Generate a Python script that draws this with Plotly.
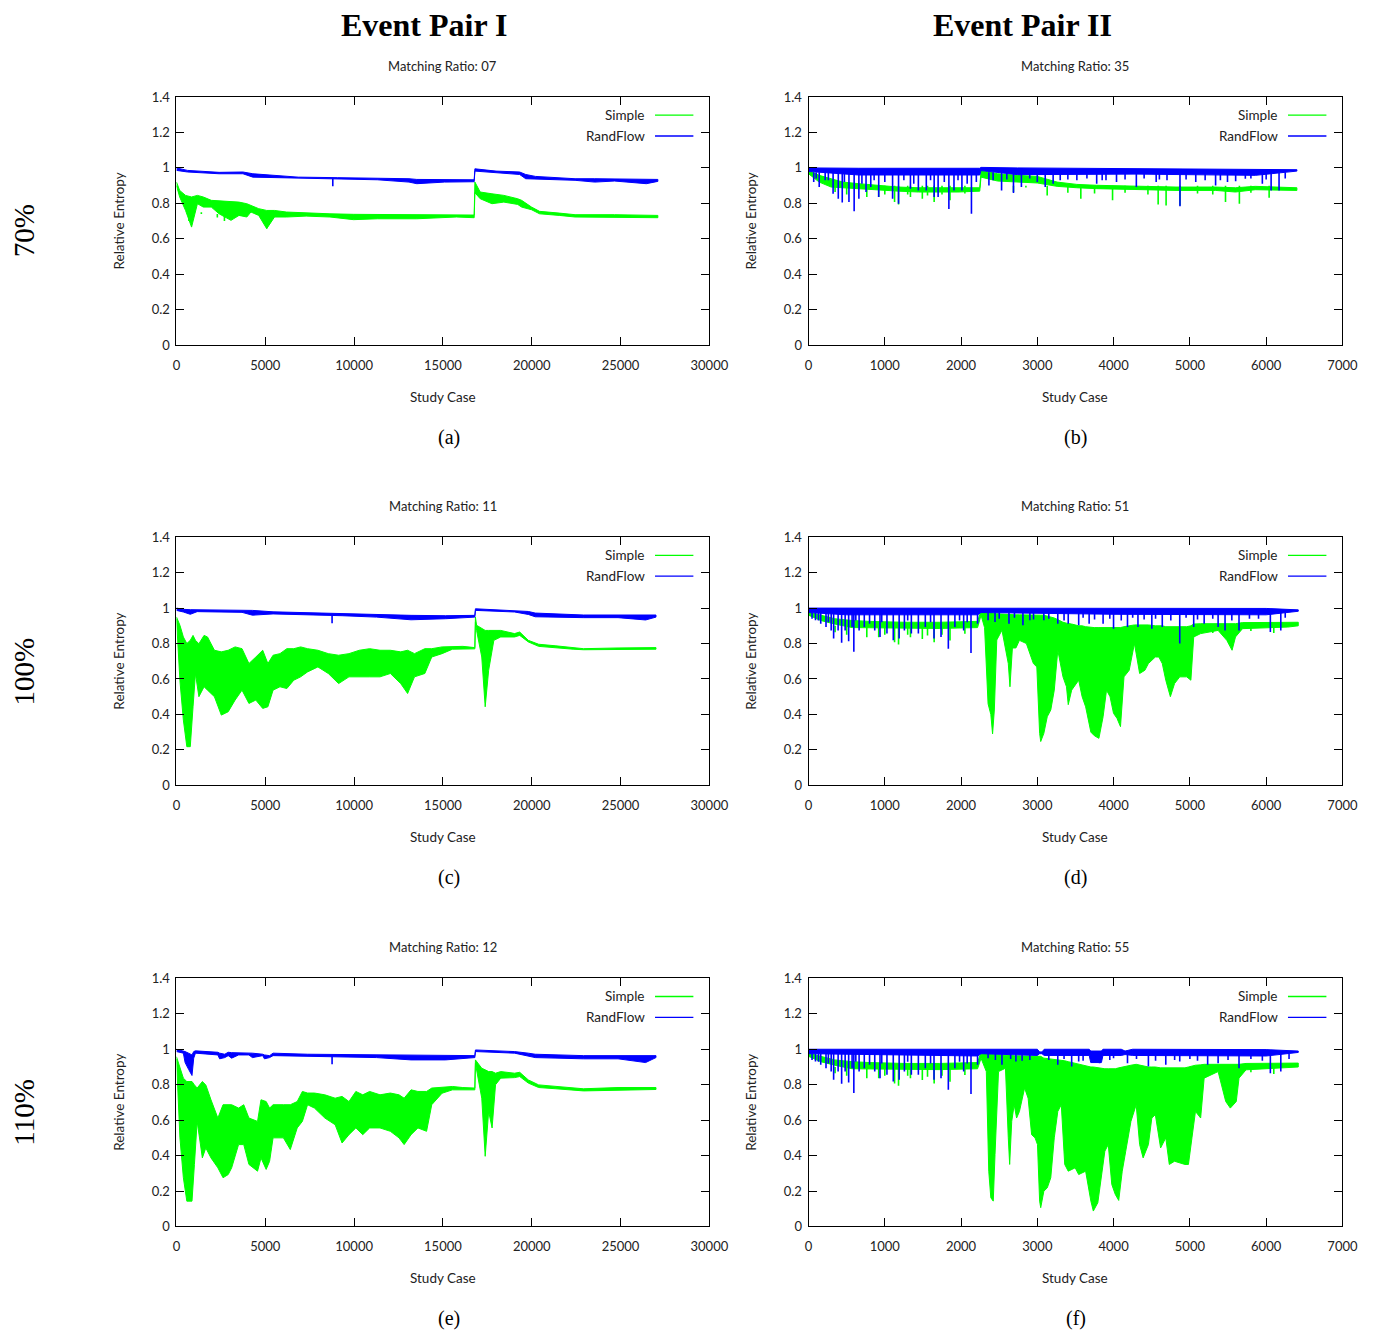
import plotly.graph_objects as go

GREEN = "#00ff00"
BLUE = "#0000ff"
SANS = "Lato, 'Noto Sans', sans-serif"
SERIF = "'Liberation Serif', 'DejaVu Serif', serif"
W, H = 1373, 1332

# ---------------- data ----------------
# (a) Event Pair I, 70 %
a_simple_x = [0, 180, 510, 850, 1180, 1510, 1960, 2400, 3070, 3520, 3960, 4190, 4630, 5080, 5520, 6190, 7300, 8640, 9970, 11310,
              13530, 15760, 16760, 16800, 17100, 17760, 18430, 19210, 19430, 19990, 20440, 21550, 22440, 24660, 27100]
a_simple_hi = [0.92, 0.873, 0.845, 0.836, 0.845, 0.836, 0.817, 0.813, 0.807, 0.807, 0.798, 0.788, 0.770, 0.760, 0.760, 0.751, 0.745, 0.741, 0.738, 0.738,
               0.736, 0.738, 0.734, 0.92, 0.864, 0.854, 0.845, 0.826, 0.817, 0.779, 0.755, 0.745, 0.736, 0.736, 0.732]
a_simple_lo = [0.90, 0.836, 0.76, 0.666, 0.798, 0.779, 0.779, 0.741, 0.704, 0.732, 0.723, 0.751, 0.732, 0.657, 0.723, 0.723, 0.728, 0.723, 0.708, 0.713,
               0.713, 0.723, 0.719, 0.86, 0.826, 0.798, 0.807, 0.794, 0.779, 0.764, 0.741, 0.732, 0.723, 0.719, 0.719]
a_simple_spike_x = [700, 1400, 2300, 2700, 3200, 3600, 5100, 5300]
a_simple_spike_y = [0.70, 0.75, 0.72, 0.70, 0.72, 0.73, 0.66, 0.70]
a_rand_x = [0, 620, 2400, 3740, 4300, 5300, 6860, 9080, 11310, 13090, 13530, 15090, 16760, 16800, 17990, 19320, 19660, 20210, 22440, 23550, 24660, 26450, 27100]
a_rand_hi = [1.0, 0.986, 0.975, 0.977, 0.967, 0.958, 0.948, 0.945, 0.943, 0.939, 0.935, 0.935, 0.933, 0.995, 0.982, 0.977, 0.963, 0.952, 0.939, 0.939, 0.939, 0.939, 0.935]
a_rand_lo = [0.986, 0.977, 0.967, 0.967, 0.948, 0.948, 0.943, 0.937, 0.933, 0.920, 0.911, 0.920, 0.922, 0.982, 0.971, 0.963, 0.939, 0.939, 0.930, 0.920, 0.926, 0.911, 0.924]
a_rand_spike_x = [8800]
a_rand_spike_y = [0.896]

# (c) Event Pair I, 100 %
c_simple_x = [0, 194, 388, 583, 777, 932, 1068, 1262, 1554, 1748, 2136, 2525, 2913, 3301, 3690, 4079, 4467, 4855, 5146, 5438,
              5826, 6214, 6603, 6991, 7380, 7962, 8545, 9128, 9710, 10293, 10876, 11458, 12041, 12624, 13012, 13400, 13982, 14371, 14953, 15536,
              16119, 16798, 16830, 16895, 17186, 17380, 17574, 17866, 18254, 19032, 19323, 19808, 20390, 21361, 22332, 22915, 24857, 26994]
c_simple_hi = [0.95, 0.903, 0.837, 0.80, 0.818, 0.846, 0.818, 0.799, 0.846, 0.837, 0.762, 0.753, 0.762, 0.781, 0.771, 0.687, 0.724, 0.762, 0.687, 0.734,
               0.743, 0.771, 0.771, 0.781, 0.771, 0.762, 0.743, 0.734, 0.743, 0.762, 0.771, 0.762, 0.762, 0.753, 0.762, 0.743, 0.771, 0.771, 0.781, 0.784,
               0.784, 0.777, 0.949, 0.903, 0.884, 0.874, 0.874, 0.874, 0.874, 0.856, 0.865, 0.818, 0.796, 0.787, 0.777, 0.771, 0.775, 0.777]
c_simple_lo = [0.94, 0.59, 0.368, 0.218, 0.218, 0.443, 0.631, 0.50, 0.556, 0.537, 0.50, 0.396, 0.415, 0.481, 0.537, 0.462, 0.481, 0.434, 0.443, 0.537,
               0.556, 0.546, 0.593, 0.612, 0.64, 0.668, 0.631, 0.574, 0.612, 0.612, 0.612, 0.612, 0.631, 0.574, 0.518, 0.612, 0.631, 0.724, 0.743, 0.768,
               0.77, 0.77, 0.92, 0.874, 0.724, 0.443, 0.649, 0.818, 0.837, 0.837, 0.846, 0.809, 0.784, 0.777, 0.768, 0.765, 0.765, 0.768]
c_rand_x = [0, 388, 777, 1165, 3690, 4273, 5438, 7380, 9322, 11264, 13206, 15148, 16798, 16830, 19032, 19808, 20196, 22915, 24857, 26410, 26994]
c_rand_hi = [1.0, 0.993, 0.991, 0.991, 0.987, 0.987, 0.979, 0.973, 0.968, 0.964, 0.959, 0.957, 0.959, 0.996, 0.987, 0.981, 0.972, 0.961, 0.961, 0.964, 0.961]
c_rand_lo = [0.987, 0.978, 0.965, 0.98, 0.976, 0.96, 0.967, 0.964, 0.957, 0.949, 0.934, 0.94, 0.949, 0.987, 0.978, 0.964, 0.951, 0.946, 0.946, 0.933, 0.949]
c_rand_spike_x = [8760]
c_rand_spike_y = [0.915]

# (e) Event Pair I, 110 %
e_simple_x = [0, 194, 388, 583, 874, 1010, 1165, 1457, 1651, 1942, 2330, 2622, 2913, 3107, 3496, 3787, 4079, 4564, 4758, 5049,
              5243, 5438, 6020, 6408, 6797, 7088, 7380, 7768, 8351, 8933, 9322, 9710, 10098, 10487, 10875, 11458, 12040, 12526, 12817, 13206,
              13594, 14080, 14371, 14953, 15536, 16119, 16798, 16830, 16895, 17186, 17380, 17574, 17768, 17962, 18254, 19032, 19323, 19808, 20390, 21361,
              22915, 24857, 26994]
e_simple_hi = [0.958, 0.893, 0.837, 0.818, 0.818, 0.799, 0.781, 0.818, 0.799, 0.715, 0.612, 0.687, 0.687, 0.687, 0.668, 0.687, 0.612, 0.593, 0.715, 0.705,
               0.668, 0.687, 0.687, 0.687, 0.705, 0.762, 0.753, 0.753, 0.743, 0.724, 0.734, 0.705, 0.762, 0.743, 0.762, 0.743, 0.753, 0.743, 0.724, 0.771,
               0.762, 0.762, 0.781, 0.784, 0.79, 0.784, 0.781, 0.94, 0.93, 0.893, 0.884, 0.874, 0.874, 0.865, 0.874, 0.865, 0.87, 0.827, 0.799, 0.79,
               0.777, 0.784, 0.784]
e_simple_lo = [0.945, 0.50, 0.275, 0.143, 0.143, 0.35, 0.593, 0.387, 0.443, 0.387, 0.331, 0.275, 0.293, 0.331, 0.462, 0.462, 0.35, 0.312, 0.387, 0.322,
               0.368, 0.50, 0.50, 0.434, 0.556, 0.593, 0.687, 0.668, 0.612, 0.574, 0.471, 0.518, 0.556, 0.518, 0.556, 0.556, 0.537, 0.50, 0.462, 0.518,
               0.556, 0.537, 0.687, 0.752, 0.771, 0.771, 0.771, 0.92, 0.874, 0.724, 0.396, 0.649, 0.556, 0.80, 0.837, 0.84, 0.846, 0.809, 0.784, 0.777,
               0.765, 0.771, 0.773]
e_rand_x = [0, 388, 486, 680, 874, 971, 1068, 2330, 2428, 2719, 2913, 3107, 3496, 4079, 4273, 4855, 4952, 5243, 5438, 7380,
            11264, 13206, 15148, 16798, 16830, 19032, 19808, 20196, 22915, 24857, 26410, 26994]
e_rand_hi = [1.0, 0.991, 0.987, 0.978, 0.968, 0.987, 0.991, 0.983, 0.978, 0.972, 0.983, 0.981, 0.981, 0.978, 0.978, 0.972, 0.968, 0.964, 0.978, 0.972,
             0.968, 0.964, 0.962, 0.964, 0.996, 0.987, 0.978, 0.972, 0.964, 0.964, 0.968, 0.964]
e_rand_lo = [0.987, 0.978, 0.925, 0.887, 0.852, 0.95, 0.978, 0.968, 0.946, 0.953, 0.964, 0.95, 0.968, 0.968, 0.953, 0.964, 0.946, 0.953, 0.964, 0.96,
             0.953, 0.94, 0.94, 0.953, 0.987, 0.978, 0.96, 0.953, 0.946, 0.946, 0.925, 0.953]
e_rand_spike_x = [8760]
e_rand_spike_y = [0.915]

# (b) Event Pair II, 70 %
b_simple_x = [0, 140, 296, 452, 660, 920, 1180, 1440, 1699, 1959, 2245, 2261, 2479, 2739, 2999, 3259, 3518, 3778, 4298, 4818, 5337, 5597, 5857, 6403]
b_simple_hi = [0.986, 0.958, 0.939, 0.920, 0.911, 0.902, 0.892, 0.888, 0.888, 0.888, 0.888, 0.986, 0.967, 0.958, 0.952, 0.92, 0.907, 0.902, 0.896, 0.892, 0.892, 0.888, 0.896, 0.888]
b_simple_lo = [0.967, 0.92, 0.892, 0.888, 0.883, 0.877, 0.869, 0.864, 0.864, 0.864, 0.869, 0.948, 0.926, 0.92, 0.915, 0.896, 0.888, 0.883, 0.877, 0.873, 0.873, 0.864, 0.877, 0.873]
b_simple_spike_x = [348, 764, 920, 1128, 1180, 1336, 1492, 1647, 1855, 2687, 3129, 3570, 3986, 4584, 4688, 4870, 5467, 5649, 6039,
                    500, 1000, 1300, 1560, 1750, 2050, 2400, 2550, 2850, 3400, 3750, 4150, 4450, 5100, 5300, 5800]
b_simple_spike_y = [0.864, 0.836, 0.836, 0.807, 0.794, 0.836, 0.826, 0.807, 0.817, 0.864, 0.845, 0.826, 0.817, 0.794, 0.788, 0.788, 0.807, 0.798, 0.832,
                    0.85, 0.85, 0.85, 0.845, 0.85, 0.855, 0.90, 0.90, 0.89, 0.86, 0.855, 0.86, 0.85, 0.855, 0.85, 0.86]
b_rand_x = [0, 660, 2245, 2261, 2739, 4298, 5857, 6403]
b_rand_hi = [1.0, 0.998, 0.998, 1.003, 1.0, 0.996, 0.994, 0.99]
b_rand_lo = [0.98, 0.96, 0.96, 0.985, 0.962, 0.965, 0.958, 0.982]
b_rand_spike_x = [68, 140, 218, 322, 390, 442, 530, 598, 660, 754, 816, 920, 1102, 1180, 1336, 1440, 1544, 1647, 1699, 1840,
                  1907, 2011, 2136, 2365, 2531, 2687, 2791, 2999, 3103, 3207, 3518, 3778, 4038, 4298, 4558, 4870, 5077, 5337, 5493, 5727,
                  6065, 6169, 3300, 3650, 3900, 4150, 4400, 4700, 4950, 5200, 5600, 5800, 5950,
                  100, 260, 470, 700, 860, 1000, 1250, 1380, 1600, 1780, 1960, 2080, 2200, 2420, 2600, 2900, 3400, 3850, 4600, 5400, 6000, 6250]
b_rand_spike_y = [0.92, 0.892, 0.93, 0.854, 0.826, 0.805, 0.807, 0.755, 0.826, 0.864, 0.892, 0.836, 0.826, 0.798, 0.883, 0.873, 0.873, 0.836, 0.836, 0.768,
                  0.873, 0.873, 0.741, 0.901, 0.873, 0.858, 0.892, 0.92, 0.892, 0.911, 0.93, 0.911, 0.92, 0.892, 0.92, 0.783, 0.92, 0.901, 0.92, 0.939,
                  0.873, 0.873, 0.93, 0.94, 0.93, 0.935, 0.94, 0.93, 0.935, 0.93, 0.925, 0.94, 0.91,
                  0.94, 0.93, 0.92, 0.91, 0.93, 0.92, 0.93, 0.91, 0.93, 0.92, 0.93, 0.91, 0.92, 0.93, 0.935, 0.94, 0.935, 0.93, 0.935, 0.93, 0.935, 0.94]

# (d) Event Pair II, 100 %
d_simple_x = [0, 160, 343, 571, 800, 1257, 1714, 2216, 2262, 2308, 2354, 2390, 2413, 2436, 2468, 2536, 2619, 2641, 2673, 2719,
              2765, 2856, 2902, 2948, 2993, 3030, 3044, 3085, 3130, 3176, 3222, 3268, 3336, 3382, 3405, 3450, 3542, 3587, 3633, 3702,
              3747, 3807, 3862, 3907, 3953, 3999, 4044, 4090, 4136, 4204, 4273, 4341, 4410, 4456, 4547, 4593, 4638, 4684, 4744, 4799,
              4867, 4958, 5013, 5050, 5141, 5370, 5484, 5553, 5598, 5690, 6284, 6421]
d_simple_hi = [0.978, 0.96, 0.94, 0.93, 0.925, 0.92, 0.92, 0.925, 0.985, 0.978, 0.975, 0.97, 0.97, 0.97, 0.968, 0.966, 0.963, 0.963, 0.962, 0.962,
               0.962, 0.96, 0.96, 0.96, 0.96, 0.96, 0.96, 0.96, 0.955, 0.95, 0.944, 0.935, 0.92, 0.915, 0.912, 0.91, 0.90, 0.90, 0.895, 0.89,
               0.89, 0.89, 0.89, 0.89, 0.89, 0.89, 0.89, 0.89, 0.895, 0.90, 0.905, 0.905, 0.905, 0.905, 0.90, 0.90, 0.90, 0.895, 0.895, 0.895,
               0.895, 0.895, 0.90, 0.91, 0.912, 0.912, 0.912, 0.912, 0.912, 0.918, 0.92, 0.92]
d_simple_lo = [0.96, 0.93, 0.91, 0.89, 0.888, 0.887, 0.885, 0.89, 0.96, 0.89, 0.46, 0.40, 0.29, 0.425, 0.82, 0.875, 0.687, 0.556, 0.775, 0.775,
               0.818, 0.80, 0.743, 0.687, 0.668, 0.293, 0.247, 0.293, 0.387, 0.425, 0.537, 0.762, 0.612, 0.556, 0.455, 0.537, 0.593, 0.50, 0.443, 0.30,
               0.28, 0.265, 0.387, 0.537, 0.50, 0.406, 0.378, 0.331, 0.612, 0.649, 0.80, 0.631, 0.649, 0.687, 0.724, 0.724, 0.687, 0.593, 0.50, 0.574,
               0.612, 0.612, 0.593, 0.837, 0.856, 0.874, 0.818, 0.762, 0.837, 0.884, 0.893, 0.90]
d_simple_spike_x = [348, 764, 920, 1128, 1180, 1336, 1492, 1647, 1855, 500, 1000, 1300, 1560, 1750, 2050, 5300, 5800, 6100]
d_simple_spike_y = [0.864, 0.836, 0.836, 0.807, 0.794, 0.836, 0.826, 0.807, 0.817, 0.85, 0.85, 0.85, 0.845, 0.85, 0.855, 0.86, 0.87, 0.86]
d_rand_x = [0, 500, 2216, 2262, 4000, 6000, 6421]
d_rand_hi = [1.0, 1.0, 0.998, 1.002, 1.0, 0.998, 0.99]
d_rand_lo = [0.975, 0.962, 0.962, 0.975, 0.965, 0.962, 0.982]
d_rand_spike_x = [46, 91, 160, 229, 297, 329, 388, 434, 480, 526, 571, 594, 663, 731, 800, 868, 937, 1028, 1111, 1188,
                  1257, 1348, 1440, 1531, 1645, 1737, 1833, 1919, 2034, 2130, 2216, 2354, 2445, 2628, 2811, 2902, 3085, 3268, 3405, 3542,
                  3679, 3862, 3999, 4182, 4319, 4501, 4638, 4867, 5050, 5187, 5370, 5461, 5644, 5781, 6055, 6192,
                  2500, 2700, 2950, 3150, 3350, 3600, 3750, 3950, 4100, 4250, 4400, 4550, 4750, 4950, 5100, 5300, 5550, 5900, 6250,
                  130, 260, 620, 960, 1300, 1600, 1980, 2080]
d_rand_spike_y = [0.94, 0.931, 0.912, 0.893, 0.874, 0.828, 0.874, 0.805, 0.874, 0.813, 0.893, 0.753, 0.874, 0.893, 0.912, 0.874, 0.837, 0.856, 0.818, 0.828,
                  0.874, 0.856, 0.856, 0.893, 0.828, 0.837, 0.771, 0.893, 0.874, 0.747, 0.912, 0.931, 0.921, 0.912, 0.903, 0.931, 0.931, 0.912, 0.912, 0.903,
                  0.912, 0.912, 0.884, 0.893, 0.893, 0.884, 0.893, 0.80, 0.893, 0.912, 0.893, 0.874, 0.874, 0.94, 0.865, 0.874,
                  0.94, 0.945, 0.935, 0.94, 0.93, 0.945, 0.935, 0.94, 0.93, 0.945, 0.935, 0.94, 0.93, 0.945, 0.935, 0.94, 0.93, 0.94, 0.945,
                  0.93, 0.92, 0.93, 0.92, 0.93, 0.92, 0.93, 0.92]

# (f) Event Pair II, 110 %
f_simple_x = [0, 160, 343, 571, 800, 1257, 1714, 2216, 2262, 2331, 2363, 2390, 2422, 2445, 2491, 2582, 2619, 2637, 2664, 2696,
              2728, 2765, 2833, 2879, 2925, 2970, 3002, 3030, 3044, 3085, 3130, 3176, 3222, 3268, 3314, 3359, 3405, 3496, 3542, 3633,
              3702, 3734, 3793, 3839, 3885, 3930, 3976, 4022, 4067, 4113, 4159, 4227, 4296, 4341, 4387, 4456, 4501, 4547, 4616, 4684,
              4730, 4799, 4867, 4935, 4981, 5027, 5073, 5141, 5187, 5370, 5470, 5530, 5608, 5644, 5736, 6421]
f_simple_hi = [0.978, 0.96, 0.94, 0.93, 0.925, 0.92, 0.92, 0.925, 0.985, 0.978, 0.975, 0.97, 0.97, 0.97, 0.968, 0.965, 0.963, 0.963, 0.963, 0.963,
               0.963, 0.963, 0.96, 0.96, 0.96, 0.96, 0.96, 0.96, 0.96, 0.95, 0.948, 0.944, 0.94, 0.94, 0.94, 0.935, 0.93, 0.92, 0.915, 0.905,
               0.90, 0.90, 0.895, 0.89, 0.89, 0.89, 0.89, 0.89, 0.895, 0.90, 0.905, 0.91, 0.915, 0.91, 0.905, 0.90, 0.90, 0.90, 0.895, 0.895,
               0.895, 0.895, 0.895, 0.895, 0.90, 0.905, 0.91, 0.912, 0.915, 0.915, 0.915, 0.915, 0.915, 0.915, 0.92, 0.922]
f_simple_lo = [0.96, 0.93, 0.91, 0.89, 0.888, 0.887, 0.885, 0.89, 0.949, 0.874, 0.312, 0.162, 0.143, 0.406, 0.874, 0.893, 0.50, 0.35, 0.593, 0.687,
               0.612, 0.649, 0.781, 0.724, 0.518, 0.50, 0.462, 0.143, 0.106, 0.199, 0.218, 0.275, 0.50, 0.649, 0.687, 0.35, 0.312, 0.331, 0.293, 0.312,
               0.143, 0.087, 0.134, 0.275, 0.425, 0.462, 0.237, 0.181, 0.147, 0.312, 0.425, 0.593, 0.687, 0.462, 0.387, 0.462, 0.612, 0.631, 0.443, 0.50,
               0.35, 0.368, 0.359, 0.35, 0.35, 0.50, 0.649, 0.612, 0.837, 0.874, 0.705, 0.668, 0.705, 0.837, 0.884, 0.90]
f_simple_spike_x = [348, 764, 920, 1128, 1180, 1336, 1492, 1647, 1855, 500, 1000, 1300, 1560, 1750, 2050, 5300, 5800, 6100]
f_simple_spike_y = [0.864, 0.836, 0.836, 0.807, 0.794, 0.836, 0.826, 0.807, 0.817, 0.85, 0.85, 0.85, 0.845, 0.85, 0.855, 0.86, 0.87, 0.86]
f_rand_x = [0, 2216, 2262, 3000, 3030, 3060, 3090, 3680, 3700, 3840, 3860, 4100, 4150, 4250, 6000, 6421]
f_rand_hi = [1.0, 0.998, 1.002, 1.0, 0.985, 0.985, 1.0, 1.0, 0.99, 0.99, 1.0, 1.0, 0.99, 1.0, 0.998, 0.99]
f_rand_lo = [0.975, 0.962, 0.975, 0.965, 0.975, 0.975, 0.965, 0.965, 0.925, 0.925, 0.965, 0.965, 0.97, 0.965, 0.962, 0.982]
f_rand_spike_x = [46, 91, 160, 229, 297, 329, 388, 434, 480, 526, 571, 594, 663, 731, 800, 868, 937, 1028, 1111, 1188,
                  1257, 1348, 1440, 1531, 1645, 1737, 1833, 1919, 2034, 2130, 2216,
                  2354, 2536, 2719, 2902, 3268, 3450, 3542, 3816, 3999, 4182, 4456, 4684, 4867, 5233, 5370, 5644, 6055, 6192,
                  2450, 2650, 2800, 3150, 3350, 3600, 3950, 4300, 4550, 4800, 5000, 5100, 5500, 5800, 5950, 6300,
                  130, 260, 620, 960, 1300, 1600, 1980, 2080]
f_rand_spike_y = [0.94, 0.931, 0.912, 0.893, 0.874, 0.828, 0.874, 0.805, 0.874, 0.813, 0.893, 0.753, 0.874, 0.893, 0.912, 0.874, 0.837, 0.856, 0.818, 0.828,
                  0.874, 0.856, 0.856, 0.893, 0.828, 0.837, 0.771, 0.893, 0.874, 0.747, 0.912,
                  0.949, 0.912, 0.931, 0.94, 0.912, 0.903, 0.931, 0.921, 0.949, 0.921, 0.903, 0.912, 0.931, 0.912, 0.921, 0.893, 0.865, 0.874,
                  0.94, 0.945, 0.935, 0.94, 0.945, 0.935, 0.94, 0.945, 0.935, 0.94, 0.945, 0.935, 0.94, 0.945, 0.935, 0.945,
                  0.93, 0.92, 0.93, 0.92, 0.93, 0.92, 0.93, 0.92]

x_ticks_left = [0, 5000, 10000, 15000, 20000, 25000, 30000]
x_ticks_right = [0, 1000, 2000, 3000, 4000, 5000, 6000, 7000]
y_ticks = [0, 0.2, 0.4, 0.6, 0.8, 1.0, 1.2, 1.4]
y_tick_text = ["0", "0.2", "0.4", "0.6", "0.8", "1", "1.2", "1.4"]
col_titles = ["Event Pair I", "Event Pair II"]
row_titles = ["70%", "100%", "110%"]
ratio_titles = [["Matching Ratio: 07", "Matching Ratio: 35"],
                ["Matching Ratio: 11", "Matching Ratio: 51"],
                ["Matching Ratio: 12", "Matching Ratio: 55"]]
captions = [["(a)", "(b)"], ["(c)", "(d)"], ["(e)", "(f)"]]
series_names = ["Simple", "RandFlow"]

panels = [
    (0, 0, (a_simple_x, a_simple_hi, a_simple_lo), (a_simple_spike_x, a_simple_spike_y), (a_rand_x, a_rand_hi, a_rand_lo), (a_rand_spike_x, a_rand_spike_y)),
    (0, 1, (b_simple_x, b_simple_hi, b_simple_lo), (b_simple_spike_x, b_simple_spike_y), (b_rand_x, b_rand_hi, b_rand_lo), (b_rand_spike_x, b_rand_spike_y)),
    (1, 0, (c_simple_x, c_simple_hi, c_simple_lo), None, (c_rand_x, c_rand_hi, c_rand_lo), (c_rand_spike_x, c_rand_spike_y)),
    (1, 1, (d_simple_x, d_simple_hi, d_simple_lo), (d_simple_spike_x, d_simple_spike_y), (d_rand_x, d_rand_hi, d_rand_lo), (d_rand_spike_x, d_rand_spike_y)),
    (2, 0, (e_simple_x, e_simple_hi, e_simple_lo), None, (e_rand_x, e_rand_hi, e_rand_lo), (e_rand_spike_x, e_rand_spike_y)),
    (2, 1, (f_simple_x, f_simple_hi, f_simple_lo), (f_simple_spike_x, f_simple_spike_y), (f_rand_x, f_rand_hi, f_rand_lo), (f_rand_spike_x, f_rand_spike_y)),
]
spike_base = {GREEN: [0.74, 0.9, None, 0.9, None, 0.9], BLUE: [0.94, 0.975, 0.96, 0.975, 0.96, 0.975]}

# ---------------- layout geometry (target pixels) ----------------
col_px = [(177, 709), (808, 1341)]
row_px = [(97, 345), (537, 785), (978, 1226)]
# measured rendering offset/scale of the page, compensated here
OX, SX = 12.8, 0.9816
OY, SY = 16.0, 0.9876


def px_x(p):
    return (p - OX) / SX / W


def px_y(p):
    return 1 - ((p - OY) / SY) / H


fig = go.Figure()


def band(xs, hi, lo, color, xa, ya):
    return go.Scatter(x=list(xs) + list(xs)[::-1], y=list(hi) + list(lo)[::-1],
                      mode="lines", fill="toself", fillcolor=color,
                      line=dict(color=color, width=1), xaxis=xa, yaxis=ya,
                      hoverinfo="skip", showlegend=False)


def spikes(sx, sy, base, color, xa, ya):
    xx, yy = [], []
    for x, y in zip(sx, sy):
        xx += [x, x, None]
        yy += [base, y, None]
    return go.Scatter(x=xx, y=yy, mode="lines", line=dict(color=color, width=1.6),
                      xaxis=xa, yaxis=ya, hoverinfo="skip", showlegend=False)


annotations = []
shapes = []
tickfont = dict(family=SANS, size=13, color="#222222")

for k, (r, c, sb, ss, rb, rs) in enumerate(panels, start=1):
    xa = "x" if k == 1 else f"x{k}"
    ya = "y" if k == 1 else f"y{k}"
    fig.add_trace(band(*sb, GREEN, xa, ya))
    if ss is not None:
        fig.add_trace(spikes(*ss, spike_base[GREEN][k - 1], GREEN, xa, ya))
    fig.add_trace(band(*rb, BLUE, xa, ya))
    if rs is not None:
        fig.add_trace(spikes(*rs, spike_base[BLUE][k - 1], BLUE, xa, ya))

    x0, x1 = col_px[c]
    y0, y1 = row_px[r]
    xt = x_ticks_left if c == 0 else x_ticks_right
    common = dict(showline=True, linecolor="black", linewidth=1, mirror="ticks",
                  ticks="inside", ticklen=8, tickwidth=1, tickcolor="black",
                  showgrid=False, zeroline=False, tickfont=tickfont, fixedrange=True)
    fig.layout["xaxis" if k == 1 else f"xaxis{k}"] = dict(
        domain=[px_x(x0), px_x(x1)], anchor=ya, range=[xt[0], xt[-1]],
        tickvals=xt, ticktext=[str(v) for v in xt], ticklabelstandoff=8, **common)
    fig.layout["yaxis" if k == 1 else f"yaxis{k}"] = dict(
        domain=[px_y(y1), px_y(y0)], anchor=xa, range=[0, 1.4],
        tickvals=y_ticks, ticktext=y_tick_text, ticklabelstandoff=3, **common)

    cx = (x0 + x1) / 2
    cy = (y0 + y1) / 2
    annotations += [
        dict(text=ratio_titles[r][c], x=px_x(cx), y=px_y(y0 - 31), xref="paper", yref="paper",
             showarrow=False, font=dict(family=SANS, size=13, color="#222222"), xanchor="center", yanchor="middle"),
        dict(text="Study Case", x=px_x(cx), y=px_y(y1 + 52), xref="paper", yref="paper",
             showarrow=False, font=dict(family=SANS, size=13.5, color="#222222"), xanchor="center", yanchor="middle"),
        dict(text="Relative Entropy", x=px_x(x0 - 57), y=px_y(cy), xref="paper", yref="paper", textangle=-90,
             showarrow=False, font=dict(family=SANS, size=13.5, color="#222222"), xanchor="center", yanchor="middle"),
        dict(text=captions[r][c], x=px_x(449 if c == 0 else 1075), y=px_y(y1 + 92), xref="paper", yref="paper",
             showarrow=False, font=dict(family=SERIF, size=20, color="black"), xanchor="center", yanchor="middle"),
    ]
    for j, (name, col) in enumerate(zip(series_names, [GREEN, BLUE])):
        ly = 0.927 - j * 0.084
        annotations.append(dict(text=name, x=0.883, y=ly, xref=f"{xa} domain", yref=f"{ya} domain",
                                showarrow=False, xanchor="right", yanchor="middle",
                                font=dict(family=SANS, size=13.5, color="#222222")))
        shapes.append(dict(type="line", x0=0.898, x1=0.970, y0=ly, y1=ly,
                           xref=f"{xa} domain", yref=f"{ya} domain",
                           line=dict(color=col, width=1.3)))

for c, t in enumerate(col_titles):
    annotations.append(dict(text=f"<b>{t}</b>", x=px_x(425 if c == 0 else 1022), y=px_y(25), xref="paper", yref="paper",
                            showarrow=False, font=dict(family=SERIF, size=32, color="black"),
                            xanchor="center", yanchor="middle"))
for r, t in enumerate(row_titles):
    cy = (row_px[r][0] + row_px[r][1]) / 2 + 10
    annotations.append(dict(text=t, x=px_x(25), y=px_y(cy), xref="paper", yref="paper", textangle=-90,
                            showarrow=False, font=dict(family=SERIF, size=29, color="black"),
                            xanchor="center", yanchor="middle"))

fig.update_layout(width=W, height=H, margin=dict(l=0, r=0, t=0, b=0),
                  paper_bgcolor="white", plot_bgcolor="white",
                  annotations=annotations, shapes=shapes, showlegend=False)

fig.write_html("out.html")
